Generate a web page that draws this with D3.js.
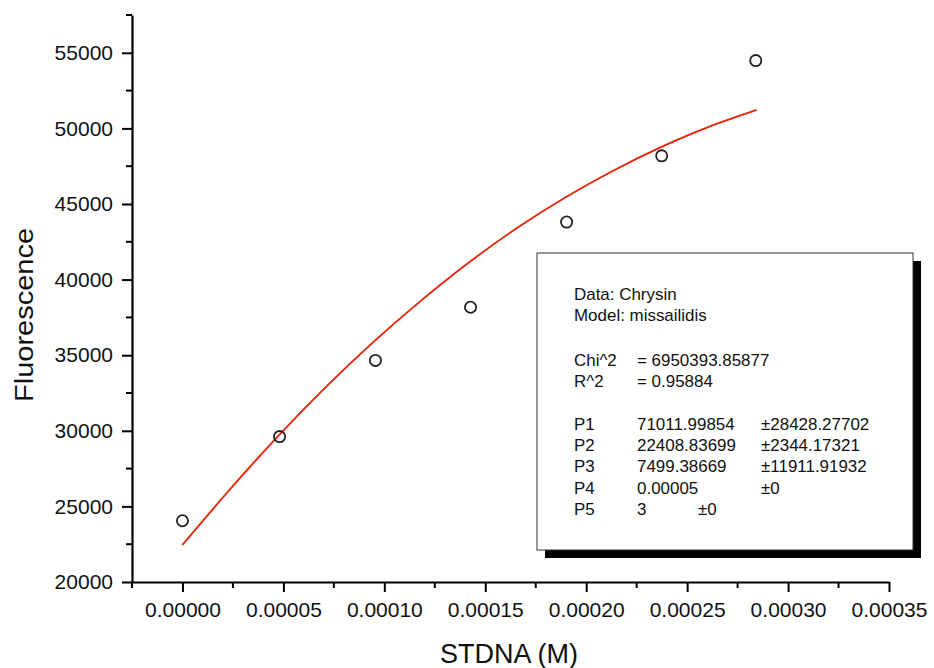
<!DOCTYPE html>
<html><head><meta charset="utf-8">
<script src="https://cdn.jsdelivr.net/npm/d3@7"></script>
<style>
html,body{margin:0;padding:0;background:#fff;}
text{font-family:"Liberation Sans",Arial,sans-serif;fill:#111;}
</style></head>
<body><svg id="c" width="934" height="668"></svg>
<script>
// Data
const concX = [0, 0.0000481, 0.0000956, 0.0001427, 0.0001903, 0.0002374, 0.0002840];
const fluorY = [24050, 29615, 34655, 38170, 43806, 48183, 54483];
const fitX = [0, 0.0000237, 0.0000474, 0.0000711, 0.0000948, 0.0001185, 0.0001422, 0.0001659, 0.0001896, 0.0002133, 0.000237, 0.0002607, 0.0002844];
const fitY = [22450, 26150, 29650, 32900, 35900, 38640, 41160, 43430, 45430, 47200, 48760, 50100, 51220];
const xTicks = [0, 0.00005, 0.0001, 0.00015, 0.0002, 0.00025, 0.0003, 0.00035];
const xMinor = [-0.000025, 0.000025, 0.000075, 0.000125, 0.000175, 0.000225, 0.000275, 0.000325];
const yTicks = [20000, 25000, 30000, 35000, 40000, 45000, 50000, 55000];
const yMinor = [22500, 27500, 32500, 37500, 42500, 47500, 52500, 57500];
const legendHeader = ["Data: Chrysin", "Model: missailidis"];
const statRows = [["Chi^2", "=  6950393.85877"], ["R^2", "=  0.95884"]];
const paramRows = [
  ["P1", "71011.99854", "±28428.27702"],
  ["P2", "22408.83699", "±2344.17321"],
  ["P3", "7499.38669", "±11911.91932"],
  ["P4", "0.00005", "±0"],
  ["P5", "3", "±0"]
];

const svg = d3.select("#c");
const x = d3.scaleLinear().domain([-0.000025, 0.00035]).range([132, 889]);
const y = d3.scaleLinear().domain([20000, 57500]).range([582, 15]);

// axes
const xAxis = d3.axisBottom(x).tickValues(xTicks).tickFormat(d3.format(".5f")).tickSize(10).tickSizeOuter(0);
const gx = svg.append("g").attr("transform", "translate(0,582)").call(xAxis);
gx.select(".domain").attr("stroke", "#000").attr("stroke-width", 2.2);
gx.selectAll(".tick line").attr("stroke", "#000").attr("stroke-width", 2);
gx.selectAll(".tick text").attr("font-size", 21).attr("dy", 0).attr("y", 35).attr("font-family", "Liberation Sans, Arial").attr("fill", "#111");
gx.selectAll(".minor").data(xMinor).enter().append("line")
  .attr("x1", d => x(d)).attr("x2", d => x(d)).attr("y1", 0).attr("y2", 6)
  .attr("stroke", "#000").attr("stroke-width", 2);

const yAxis = d3.axisLeft(y).tickValues(yTicks).tickFormat(d3.format("d")).tickSize(10).tickSizeOuter(0);
const gy = svg.append("g").attr("transform", "translate(132,0)").call(yAxis);
gy.select(".domain").attr("stroke", "#000").attr("stroke-width", 2.2);
gy.selectAll(".tick line").attr("stroke", "#000").attr("stroke-width", 2);
gy.selectAll(".tick text").attr("font-size", 21).attr("x", -19).attr("font-family", "Liberation Sans, Arial").attr("fill", "#111");
gy.selectAll(".minor").data(yMinor).enter().append("line")
  .attr("y1", d => y(d)).attr("y2", d => y(d)).attr("x1", 0).attr("x2", -6)
  .attr("stroke", "#000").attr("stroke-width", 2);

// axis titles
svg.append("text").attr("x", 509).attr("y", 663).attr("text-anchor", "middle")
  .attr("font-size", 27).text("STDNA (M)");
svg.append("text").attr("transform", "translate(33,315) rotate(-90)").attr("text-anchor", "middle")
  .attr("font-size", 26).attr("textLength", 174).attr("lengthAdjust", "spacingAndGlyphs").text("Fluorescence");

// fit curve
const pts = fitX.map((v, i) => [v, fitY[i]]);
const line = d3.line().x(d => x(d[0])).y(d => y(d[1])).curve(d3.curveNatural);
svg.append("path").attr("d", line(pts)).attr("fill", "none").attr("stroke", "#f3d23a")
  .attr("stroke-width", 1.6).attr("transform", "translate(-0.9,0.6)");
svg.append("path").attr("d", line(pts)).attr("fill", "none").attr("stroke", "#e8231c").attr("stroke-width", 1.8);

// data points
svg.selectAll(".pt").data(concX).enter().append("circle")
  .attr("cx", d => x(d)).attr("cy", (d, i) => y(fluorY[i])).attr("r", 5.6)
  .attr("fill", "none").attr("stroke", "#222").attr("stroke-width", 1.8);

// legend box
const bx = 537, by = 253, bw = 376, bh = 297;
svg.append("rect").attr("x", bx + 8).attr("y", by + 8).attr("width", bw).attr("height", bh).attr("fill", "#000");
svg.append("rect").attr("x", bx).attr("y", by).attr("width", bw).attr("height", bh)
  .attr("fill", "#fff").attr("stroke", "#333").attr("stroke-width", 1);

const lg = svg.append("g");
const sx = 1.06;
function t(xp, yp, s) {
  lg.append("text").attr("transform", `translate(${xp},${yp}) scale(${sx},1)`).attr("font-size", 16).text(s);
}
const headY = [300, 321];
legendHeader.forEach((s, i) => t(574, headY[i], s));
const statY = [366, 387];
statRows.forEach((r, i) => { t(574, statY[i], r[0]); t(637, statY[i], r[1]); });
const pY = [430, 451, 472, 494, 515];
paramRows.forEach((r, i) => {
  t(574, pY[i], r[0]);
  t(637, pY[i], r[1]);
  t(i === 4 ? 698 : 761, pY[i], r[2]);
});
</script></body></html>
